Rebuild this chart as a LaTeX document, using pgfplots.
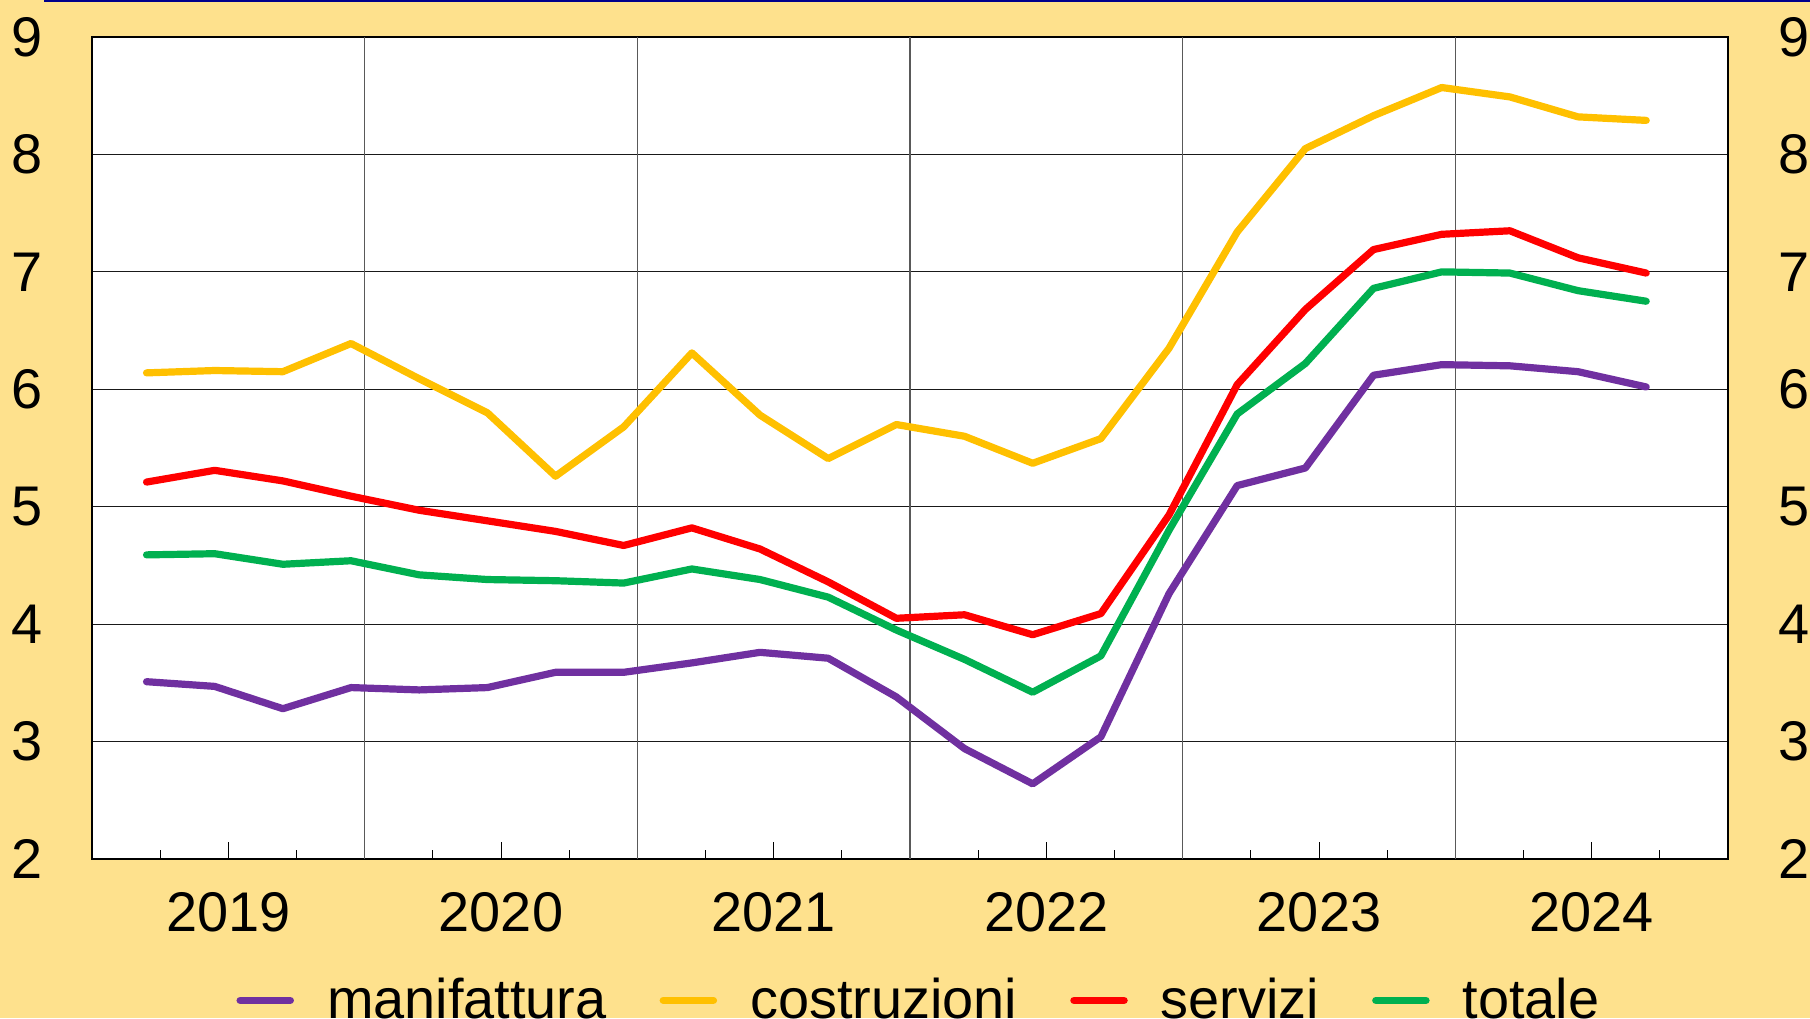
\documentclass[border=0pt]{standalone}
\usepackage{fontspec}
\setmainfont{Liberation Sans}
\usepackage{pgfplots}
\usepackage{pgfplotstable}
\pgfplotsset{compat=1.18}
\definecolor{bg}{HTML}{FEE18D}
\definecolor{topline}{HTML}{00008C}
\definecolor{manif}{HTML}{7030A0}
\definecolor{costr}{HTML}{FFC000}
\definecolor{serv}{HTML}{FF0000}
\definecolor{tot}{HTML}{00B050}

% quarters from Q1 2019 (x = 0 is the start of 2019)
\pgfplotstableread{
x    manif costr serv tot
0.8  3.51  6.14  5.21  4.59
1.8  3.47  6.16  5.31  4.60
2.8  3.28  6.15  5.22  4.51
3.8  3.46  6.39  5.09  4.54
4.8  3.44  6.09  4.97  4.42
5.8  3.46  5.80  4.88  4.38
6.8  3.59  5.26  4.79  4.37
7.8  3.59  5.68  4.67  4.35
8.8  3.67  6.31  4.82  4.47
9.8  3.76  5.78  4.64  4.38
10.8 3.71  5.41  4.36  4.23
11.8 3.38  5.70  4.05  3.95
12.8 2.94  5.60  4.08  3.70
13.8 2.64  5.37  3.91  3.42
14.8 3.04  5.58  4.09  3.73
15.8 4.26  6.35  4.93  4.80
16.8 5.18  7.34  6.04  5.79
17.8 5.33  8.05  6.68  6.22
18.8 6.12  8.33  7.19  6.86
19.8 6.21  8.57  7.32  7.00
20.8 6.20  8.49  7.35  6.99
21.8 6.15  8.32  7.12  6.84
22.8 6.02  8.29  6.99  6.75
}\datatable

\begin{document}
\begin{tikzpicture}
\fill[bg] (-0.92,-1.59) rectangle (17.18,8.59);
\path[use as bounding box] (-0.92,-1.59) rectangle (17.18,8.59);
\draw[topline, line width=0.025cm] (-0.48,8.585) -- (17.18,8.585);
\begin{axis}[
  at={(0,0)}, anchor=south west,
  scale only axis, width=16.36cm, height=8.22cm,
  xmin=0, xmax=24, ymin=2, ymax=9,
  axis background/.style={fill=white},
  axis line style={line width=0.025cm, black},
  font=\fontsize{15.9}{19}\selectfont,
  ytick={2,3,4,5,6,7,8,9},
  yticklabels={2,3,4,5,6,7,8,9},
  ytick pos=left,
  ytick style={draw=none},
  yticklabel style={anchor=east, inner sep=0pt, xshift=-0.49cm},
  ymajorgrids,
  major grid style={black!90, line width=0.011cm},
  xtick={2,6,10,14,18,22},
  xticklabels={2019,2020,2021,2022,2023,2024},
  minor xtick={1,3,5,7,9,11,13,15,17,19,21,23},
  xtick pos=bottom,
  tick align=inside,
  major tick length=0.17cm, minor tick length=0.09cm,
  tick style={black, line width=0.01cm},
  xticklabel style={anchor=north, inner sep=0pt, yshift=-0.33cm},
  extra x ticks={4,8,12,16,20},
  extra x tick labels={},
  extra x tick style={xmajorgrids=true, major tick length=0pt,
    major grid style={black!65, line width=0.014cm}},
  legend columns=4,
  legend style={at={(0.507,-0.172)}, anchor=center, draw=none, fill=none,
    font=\fontsize{15.9}{19}\selectfont,
    /tikz/every odd column/.append style={column sep=0.26cm},
    /tikz/every even column/.append style={column sep=0.46cm}},
  legend image code/.code={\draw[line width=0.075cm, line cap=round] (0.035cm,0cm) -- (0.535cm,0cm);},
  every axis plot/.append style={line width=0.072cm, line cap=round, line join=round},
]
\addplot[manif] table[x=x, y=manif] {\datatable};
\addlegendentry{manifattura}
\addplot[costr] table[x=x, y=costr] {\datatable};
\addlegendentry{costruzioni}
\addplot[serv] table[x=x, y=serv] {\datatable};
\addlegendentry{servizi}
\addplot[tot] table[x=x, y=tot] {\datatable};
\addlegendentry{totale}
\end{axis}
\begin{axis}[
  at={(0,0)}, anchor=south west,
  scale only axis, width=16.36cm, height=8.22cm,
  xmin=0, xmax=24, ymin=2, ymax=9,
  axis line style={draw=none},
  font=\fontsize{15.9}{19}\selectfont,
  xtick=\empty,
  ytick={2,3,4,5,6,7,8,9},
  yticklabels={2,3,4,5,6,7,8,9},
  ytick pos=right, yticklabel pos=right,
  ytick style={draw=none},
  yticklabel style={anchor=west, inner sep=0pt, xshift=0.50cm},
]
\end{axis}
\end{tikzpicture}
\end{document}
